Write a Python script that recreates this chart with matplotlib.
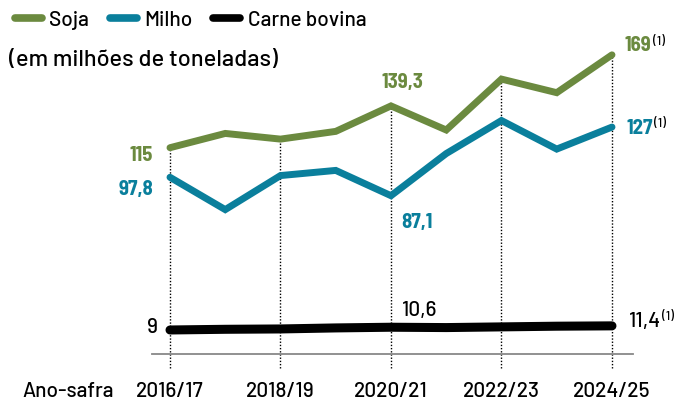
import matplotlib
matplotlib.use("Agg")
from matplotlib import pyplot as plt

# safras and values (milhoes de toneladas)
safras = ["2016/17", "2017/18", "2018/19", "2019/20", "2020/21",
          "2021/22", "2022/23", "2023/24", "2024/25"]
soja = [115, 123.3, 120, 124.5, 139.3, 125.3, 154.9, 147, 169]
milho = [97.8, 79, 98.8, 101.8, 87.1, 111.6, 130.8, 114.2, 127]
carne = [9, 9.4, 9.6, 10.2, 10.6, 10.4, 10.8, 11.2, 11.4]

c_soja = "#6B8A3F"
c_milho = "#0A7F9C"
c_carne = "#000000"

plt.rcParams["font.family"] = ["Barlow", "DejaVu Sans"]
plt.rcParams["font.weight"] = 500
bold = dict(family=["Barlow Semi Condensed", "DejaVu Sans"], stretch="condensed", fontweight="bold")

fig = plt.figure(figsize=(6.79, 4.01), dpi=100)
ax = fig.add_axes([0, 0, 1, 1])
ax.set_xlim(-3.077, 9.213)
ax.set_ylim(-32.3, 200.9)
ax.axis("off")

x = list(range(len(safras)))

# dotted guides on labelled years
for i in range(0, len(safras), 2):
    ax.plot([i, i], [-13, soja[i]], color="black", lw=1.0, ls=(0, (1, 1.3)), zorder=1)

# baseline
ax.plot([-0.33, 8.38], [-4.95, -4.95], color="#888888", lw=1.3, zorder=1)

ax.plot(x, soja, color=c_soja, lw=5, solid_capstyle="round", solid_joinstyle="miter", zorder=3, label="Soja")
ax.plot(x, milho, color=c_milho, lw=5, solid_capstyle="round", solid_joinstyle="miter", zorder=3, label="Milho")
ax.plot(x, carne, color=c_carne, lw=6.5, solid_capstyle="round", zorder=3, label="Carne bovina")

fs = 15
sup = 9
# value labels
ax.annotate("115", (0, soja[0]), xytext=(-17, -8), textcoords="offset pixels",
            ha="right", va="center", color=c_soja, fontsize=fs, **bold)
ax.annotate("97,8", (0, milho[0]), xytext=(-17, -12), textcoords="offset pixels",
            ha="right", va="center", color=c_milho, fontsize=fs, **bold)
ax.annotate("139,3", (4, soja[4]), xytext=(11, 23), textcoords="offset pixels",
            ha="center", va="center", color=c_soja, fontsize=fs, **bold)
ax.annotate("87,1", (4, milho[4]), xytext=(10, -27), textcoords="offset pixels",
            ha="left", va="center", color=c_milho, fontsize=fs, **bold)
ax.annotate("169", (8, soja[8]), xytext=(13, 9), textcoords="offset pixels",
            ha="left", va="center", color=c_soja, fontsize=fs, **bold)
ax.annotate("(1)", (8, soja[8]), xytext=(41, 13), textcoords="offset pixels",
            ha="left", va="center", color="black", fontsize=sup)
ax.annotate("127", (8, milho[8]), xytext=(15, -1), textcoords="offset pixels",
            ha="left", va="center", color=c_milho, fontsize=fs, **bold)
ax.annotate("(1)", (8, milho[8]), xytext=(42, 3), textcoords="offset pixels",
            ha="left", va="center", color="black", fontsize=sup)
ax.annotate("9", (0, carne[0]), xytext=(-12, 2), textcoords="offset pixels",
            ha="right", va="center", color="black", fontsize=fs)
ax.annotate("10,6", (4, carne[4]), xytext=(11, 17), textcoords="offset pixels",
            ha="left", va="center", color="black", fontsize=fs)
ax.annotate("11,4", (8, carne[8]), xytext=(17, 4), textcoords="offset pixels",
            ha="left", va="center", color="black", fontsize=fs)
ax.annotate("(1)", (8, carne[8]), xytext=(50, 9), textcoords="offset pixels",
            ha="left", va="center", color="black", fontsize=sup)

# x labels
for i in range(0, len(safras), 2):
    ax.text(i, -26.5, safras[i], ha="center", va="center", fontsize=fs)
ax.text(-2.68, -26.5, "Ano-safra", ha="left", va="center", fontsize=fs)

ax.text(0.013, 0.85, "(em milhões de toneladas)", transform=ax.transAxes,
        ha="left", va="center", fontsize=17)

leg = ax.legend(loc="upper left", bbox_to_anchor=(0.0, 1.01), ncol=3, frameon=False,
                fontsize=fs, handlelength=1.3, handletextpad=0.35, columnspacing=1.0,
                borderaxespad=0.3)
for h in leg.legend_handles:
    h.set_linewidth(5.5)

fig.savefig("out.png", dpi=100)
